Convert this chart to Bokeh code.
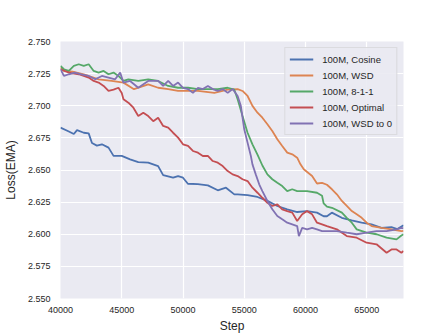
from bokeh.plotting import figure
from bokeh.models import FixedTicker, PrintfTickFormatter, Legend, LegendItem, Range1d
from bokeh.embed import file_html
from bokeh.resources import INLINE

# ---- data ----
cos_x = [40000, 40680, 41090, 41350, 41900, 42300, 42570, 42970, 43380, 43920, 44330, 45000,
         45680, 46350, 47160, 47970, 48380, 49190, 49600, 50000, 50400, 51210, 52030, 52840,
         53510, 54190, 54460, 55270, 56080, 56890, 57700, 58510, 59320, 60130, 60940, 61480,
         61750, 62150, 62960, 63770, 64580, 65390, 66200, 67010, 67500, 68000]
cos_y = [2.683, 2.680, 2.678, 2.681, 2.679, 2.6785, 2.671, 2.669, 2.670, 2.6674, 2.661, 2.661,
         2.6583, 2.6562, 2.6557, 2.653, 2.646, 2.644, 2.6453, 2.644, 2.6393, 2.639, 2.638, 2.6342,
         2.6362, 2.631, 2.631, 2.6305, 2.629, 2.626, 2.622, 2.6194, 2.6173, 2.618, 2.6168, 2.614,
         2.614, 2.6168, 2.6128, 2.6108, 2.609, 2.6077, 2.605, 2.6056, 2.604, 2.607]

wsd_x = [40000, 40280, 41000, 41900, 43110, 44170, 45140, 46000, 47160, 47970, 48790, 49600,
         51220, 52560, 53650, 54460, 54860, 55270, 55670, 56080, 56480, 56890, 57290, 57700,
         58100, 58510, 58920, 59320, 59590, 59860, 60540, 60940, 61350, 61750, 62160, 62560,
         62970, 63370, 63780, 64180, 64590, 64990, 65400, 66210, 67020, 67830, 68000]
wsd_y = [2.7297, 2.7271, 2.7265, 2.7245, 2.7206, 2.7193, 2.718, 2.7129, 2.7167, 2.714, 2.713, 2.7115,
         2.7115, 2.710, 2.7125, 2.7129, 2.7115, 2.7076, 2.6999, 2.6946, 2.6907, 2.6856, 2.6804, 2.674,
         2.6687, 2.6635, 2.6622, 2.6596, 2.6544, 2.6506, 2.6453, 2.6395, 2.640, 2.6385, 2.635, 2.6311,
         2.6259, 2.622, 2.618, 2.6155, 2.6128, 2.609, 2.6064, 2.605, 2.6038, 2.6025, 2.6027]

s811_x = [40000, 40280, 40680, 41090, 41490, 41900, 42300, 42710, 43110, 43520, 43920, 44330,
          44730, 45140, 45540, 46350, 47160, 47970, 48790, 49600, 50410, 51220, 52030, 52840,
          53650, 54190, 54460, 54860, 55270, 55670, 56080, 56480, 56890, 57290, 57700, 58100,
          58510, 58920, 59320, 60130, 60940, 61350, 61480, 61750, 62160, 62970, 63370, 63780,
          64180, 64990, 65800, 66620, 67430, 67830, 68000]
s811_y = [2.731, 2.7284, 2.7271, 2.731, 2.7323, 2.731, 2.7323, 2.7271, 2.7258, 2.7271, 2.7245, 2.7258,
          2.7232, 2.7193, 2.7206, 2.7193, 2.7206, 2.7193, 2.7154, 2.714, 2.714, 2.713, 2.713, 2.713,
          2.714, 2.7125, 2.705, 2.692, 2.679, 2.670, 2.662, 2.6535, 2.6466, 2.6428, 2.640, 2.6375,
          2.6336, 2.635, 2.6336, 2.6336, 2.6323, 2.630, 2.624, 2.6215, 2.6206, 2.6168, 2.6128, 2.609,
          2.6038, 2.6012, 2.600, 2.5973, 2.596, 2.599, 2.600]

opt_x = [40000, 40680, 41490, 42300, 42710, 43110, 43520, 43920, 44330, 44730, 45000, 45140,
         45540, 45950, 46350, 46760, 47160, 47570, 47970, 48380, 48790, 49190, 49600, 50000,
         50410, 50810, 51220, 51620, 52030, 52430, 52840, 53240, 53650, 54050, 54460, 54860,
         55270, 55670, 56080, 56480, 56890, 57290, 57700, 58100, 58510, 58920, 59320, 59730,
         60130, 60540, 60940, 61350, 61750, 62560, 63370, 64180, 64990, 65800, 66620, 67020,
         67430, 67830, 68000]
opt_y = [2.7284, 2.7258, 2.7245, 2.7219, 2.7193, 2.718, 2.7154, 2.7115, 2.7125, 2.714, 2.710, 2.705,
         2.7024, 2.6985, 2.692, 2.6946, 2.692, 2.688, 2.6907, 2.6843, 2.683, 2.679, 2.6752, 2.670,
         2.6687, 2.6648, 2.6635, 2.6609, 2.6609, 2.657, 2.6557, 2.6531, 2.6492, 2.6466, 2.6453, 2.6428,
         2.6414, 2.6362, 2.6323, 2.6284, 2.6245, 2.622, 2.6233, 2.6194, 2.618, 2.6168, 2.6103, 2.6155,
         2.618, 2.6155, 2.609, 2.6077, 2.6064, 2.6038, 2.5986, 2.5973, 2.5934, 2.5922, 2.5856, 2.5882,
         2.5882, 2.5856, 2.587]

wsd0_x = [40000, 40280, 40680, 41170, 41700, 42300, 42840, 43380, 43920, 44460, 44870, 45140,
          45680, 46350, 47160, 47970, 48380, 48790, 49190, 49600, 50000, 50410, 50810, 51220,
          51620, 52030, 52430, 52840, 53240, 53650, 54050, 54460, 54720, 55000, 55270, 55540,
          55670, 55940, 56220, 56480, 56890, 57290, 57700, 58100, 58510, 58920, 59320, 59460,
          59730, 60130, 60540, 60940, 61350, 61750, 62560, 63370, 64180, 64990, 65800, 66620,
          67430, 67830, 68000]
wsd0_y = [2.7284, 2.7232, 2.7245, 2.7258, 2.7245, 2.7232, 2.7206, 2.7232, 2.7219, 2.7206, 2.7258, 2.718,
          2.7193, 2.714, 2.7193, 2.7193, 2.7154, 2.7193, 2.7154, 2.718, 2.714, 2.713, 2.710, 2.714,
          2.713, 2.7154, 2.713, 2.7115, 2.713, 2.710, 2.713, 2.7076, 2.6999, 2.6817, 2.6713, 2.6609,
          2.6544, 2.6466, 2.6389, 2.6336, 2.6259, 2.6194, 2.6142, 2.6116, 2.609, 2.6077, 2.6064, 2.5986,
          2.605, 2.6038, 2.605, 2.6038, 2.6025, 2.6025, 2.6025, 2.6012, 2.600, 2.6012, 2.6025, 2.6025,
          2.6038, 2.605, 2.6045]

labels = ["100M, Cosine", "100M, WSD", "100M, 8-1-1", "100M, Optimal", "100M, WSD to 0"]
colors = ["#4C72B0", "#DD8452", "#55A868", "#C44E52", "#8172B3"]
x_ticks = [40000, 45000, 50000, 55000, 60000, 65000]
y_ticks = [2.550, 2.575, 2.600, 2.625, 2.650, 2.675, 2.700, 2.725, 2.750]

FONT = "Liberation Sans"
TXT = "#262626"

p = figure(width=448, height=336, output_backend="svg", toolbar_location=None,
           x_range=Range1d(40000, 68000), y_range=Range1d(2.55, 2.75),
           min_border_left=57, min_border_right=45, min_border_top=41, min_border_bottom=38)
p.background_fill_color = "#EAEAF2"
p.border_fill_color = "white"
p.outline_line_color = None

series = [(cos_x, cos_y), (wsd_x, wsd_y), (s811_x, s811_y), (opt_x, opt_y), (wsd0_x, wsd0_y)]
items = []
for (xs, ys), lab, col in zip(series, labels, colors):
    r = p.line(xs, ys, line_color=col, line_width=1.8)
    items.append(LegendItem(label=lab, renderers=[r]))

for ax in (p.xaxis[0], p.yaxis[0]):
    ax.axis_line_color = None
    ax.major_tick_line_color = None
    ax.minor_tick_line_color = None
    ax.major_tick_out = 0
    ax.major_tick_in = 0
    ax.minor_tick_out = 0
    ax.minor_tick_in = 0
    ax.major_label_text_font = FONT
    ax.major_label_text_font_size = "9px"
    ax.major_label_text_color = TXT
    ax.axis_label_text_font = FONT
    ax.axis_label_text_font_size = "12px"
    ax.axis_label_text_font_style = "normal"
    ax.axis_label_text_color = TXT

p.xaxis.ticker = FixedTicker(ticks=x_ticks)
p.yaxis.ticker = FixedTicker(ticks=y_ticks)
p.yaxis.formatter = PrintfTickFormatter(format="%.3f")
p.xaxis.axis_label = "Step"
p.yaxis.axis_label = "Loss(EMA)"
p.xaxis.major_label_standoff = 8
p.yaxis.major_label_standoff = 10
p.xaxis.axis_label_standoff = 3
p.yaxis.axis_label_standoff = 7

p.xgrid.grid_line_color = "white"
p.ygrid.grid_line_color = "white"
p.xgrid.grid_line_width = 1.2
p.ygrid.grid_line_width = 1.2

legend = Legend(items=items, location="top_right")
legend.label_text_font = FONT
legend.label_text_font_size = "9.5px"
legend.label_text_color = TXT
legend.background_fill_color = "#EAEAF2"
legend.background_fill_alpha = 0.9
legend.border_line_color = "#CCCCCC"
legend.border_line_width = 1
legend.glyph_width = 24
legend.glyph_height = 14
legend.label_height = 14
legend.label_standoff = 9
legend.spacing = 2
legend.padding = 4
legend.margin = 6
p.add_layout(legend)

open("out.html", "w").write(file_html(p, INLINE))
